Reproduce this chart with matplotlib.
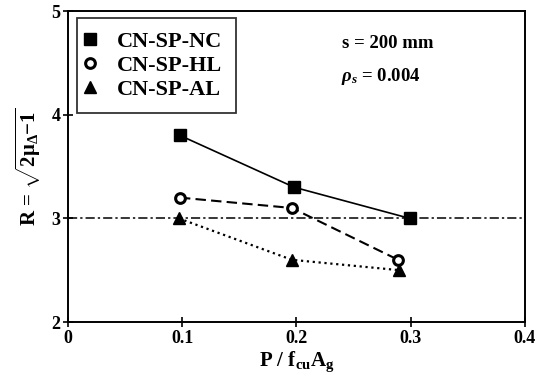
import matplotlib
matplotlib.use("Agg")
import matplotlib.pyplot as plt

plt.rcParams["font.family"] = "Liberation Serif"
plt.rcParams["font.weight"] = "bold"
plt.rcParams["axes.labelweight"] = "bold"
plt.rcParams["mathtext.fontset"] = "custom"
plt.rcParams["mathtext.rm"] = "Liberation Serif:bold"
plt.rcParams["mathtext.it"] = "Liberation Serif:italic:bold"
plt.rcParams["mathtext.bf"] = "Liberation Serif:bold"

# data
nc_x = [0.098, 0.198, 0.299]
nc_y = [3.8, 3.3, 3.0]
hl_x = [0.098, 0.196, 0.289]
hl_y = [3.2, 3.1, 2.6]
al_x = [0.097, 0.196, 0.29]
al_y = [3.0, 2.6, 2.5]
ref_level = 3.0

x_ticks = [0, 0.1, 0.2, 0.3, 0.4]
x_ticklabels = ["0", "0.1", "0.2", "0.3", "0.4"]
y_ticks = [2, 3, 4, 5]

fig = plt.figure(figsize=(5.44, 3.76), dpi=100)
ax = fig.add_axes([0.125, 0.1436, 0.84, 0.827])

ax.axhline(ref_level, color="black", lw=1.1, linestyle=(0, (6, 2, 1.5, 2)), zorder=1)

ax.plot(nc_x, nc_y, "-", color="black", lw=1.2, marker="s", ms=8,
        mfc="black", mec="black", label="CN-SP-NC", zorder=3)
ax.plot(hl_x, hl_y, "--", color="black", lw=1.5, dashes=(5, 2.5), marker="o", ms=7,
        mfc="white", mec="black", mew=2.2, label="CN-SP-HL", zorder=3)
ax.plot(al_x, al_y, ":", color="black", lw=1.6, marker="^", ms=8,
        mfc="black", mec="black", label="CN-SP-AL", zorder=3)

ax.set_xlim(0, 0.4)
ax.set_ylim(2, 5)
ax.set_xticks(x_ticks)
ax.set_xticklabels(x_ticklabels, fontweight="bold")
ax.set_yticks(y_ticks)
ax.set_yticklabels([str(v) for v in y_ticks], fontweight="bold")
ax.tick_params(direction="inout", length=7, width=1.2, labelsize=13, pad=2)
for s in ax.spines.values():
    s.set_linewidth(1.4)

ax.set_xlabel(r"P / f$_{\mathrm{cu}}$A$_{\mathrm{g}}$", fontsize=15, fontweight="bold", labelpad=2)
ax.set_ylabel(r"R = $\sqrt{\mathrm{2μ_{Δ}{-}1}}$", fontsize=15, fontweight="bold", labelpad=6)

ax.text(0.70, 0.88, "s = 200 mm", transform=ax.transAxes, fontsize=13.5,
        fontweight="bold", ha="center")
ax.text(0.685, 0.775, r"$\rho_s$ = 0.004", transform=ax.transAxes, fontsize=13.5,
        fontweight="bold", ha="center")

handles, labels = ax.get_legend_handles_labels()
leg = ax.legend(handles, labels, loc="upper left", bbox_to_anchor=(0.02, 0.978),
                fontsize=16, frameon=True, fancybox=False, edgecolor="black",
                handlelength=0, handletextpad=1.2, borderpad=0.6, labelspacing=0.15,
                markerscale=1.0, borderaxespad=0)
leg.get_frame().set_linewidth(1.3)

fig.savefig("out.png", dpi=100)
